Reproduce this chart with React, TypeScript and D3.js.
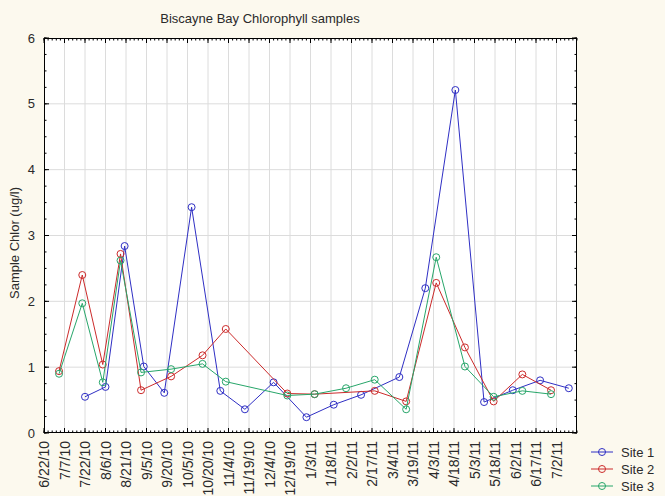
import React from "react";
import * as d3 from "d3";

const tickLabels = ["6/22/10","7/7/10","7/22/10","8/6/10","8/21/10","9/5/10","9/20/10","10/5/10","10/20/10","11/4/10","11/19/10","12/4/10","12/19/10","1/3/11","1/18/11","2/2/11","2/17/11","3/4/11","3/19/11","4/3/11","4/18/11","5/3/11","5/18/11","6/2/11","6/17/11","7/2/11"];
const domainDates = ["6/22/10", "7/17/11"];
const yTicks = [0, 1, 2, 3, 4, 5, 6];

const site1Dates = ["7/22/10","8/6/10","8/20/10","9/3/10","9/18/10","10/8/10","10/29/10","11/16/10","12/7/10","12/31/10","1/20/11","2/9/11","3/9/11","3/28/11","4/19/11","5/10/11","5/31/11","6/20/11","7/11/11"];
const site1Values = [0.55,0.70,2.84,1.01,0.61,3.43,0.64,0.36,0.77,0.24,0.43,0.58,0.85,2.20,5.21,0.47,0.65,0.80,0.68];

const site23Dates = ["7/3/10","7/20/10","8/4/10","8/17/10","9/1/10","9/23/10","10/16/10","11/2/10","12/17/10","1/6/11","1/29/11","2/19/11","3/14/11","4/5/11","4/26/11","5/17/11","6/7/11","6/28/11"];
const site2Values: (number | null)[] = [0.94,2.40,1.04,2.72,0.65,0.86,1.18,1.58,0.60,0.59,null,0.64,0.48,2.28,1.30,0.48,0.89,0.65];
const site3Values = [0.90,1.97,0.77,2.62,0.92,0.97,1.05,0.78,0.57,0.59,0.68,0.81,0.36,2.67,1.01,0.55,0.64,0.59];

const seriesNames = ["Site 1", "Site 2", "Site 3"];
const seriesColors = ["#2f2fc4", "#cc2b2b", "#27a66a"];

const parse = d3.utcParse("%m/%d/%y");

const W = 665, H = 496;
const L = 44, R = 577, T = 38, B = 433;
const FONT = "Arial, 'Liberation Sans', sans-serif";
const TXT = "#2a2a2a";

export default function App() {
  const x = d3.scaleUtc().domain(domainDates.map(s => parse(s) as Date)).range([L, R]);
  const y = d3.scaleLinear().domain([0, 6]).range([B, T]);

  const series = [
    site1Dates.map((d, i) => ({ d: parse(d) as Date, v: site1Values[i] })),
    site23Dates.map((d, i) => ({ d: parse(d) as Date, v: site2Values[i] })).filter(p => p.v !== null) as { d: Date; v: number }[],
    site23Dates.map((d, i) => ({ d: parse(d) as Date, v: site3Values[i] })),
  ];

  const line = d3.line<{ d: Date; v: number }>().x(p => x(p.d)).y(p => y(p.v));

  const start = parse(domainDates[0]) as Date;
  const end = parse(domainDates[1]) as Date;
  const totalDays = d3.utcDay.count(start, end);
  const minorX = d3.range(0, totalDays + 1, 3).map(k => x(d3.utcDay.offset(start, k)));
  const majorX = tickLabels.map(s => x(parse(s) as Date));
  const minorY = d3.range(0, 6.001, 0.25).map(v => y(v));

  return (
    <div style={{ position: "fixed", left: 0, top: 0 }}>
      <svg width={W} height={H} style={{ display: "block", fontFamily: FONT }}>
        <rect x={0} y={0} width={W} height={H} fill="#fcf9ee" />
        <rect x={L} y={T} width={R - L} height={B - T} fill="#ffffff" />
        {/* grid */}
        {majorX.filter(px => px > L + 1 && px < R - 1).map((px, i) => (
          <line key={"gx" + i} x1={px} x2={px} y1={T} y2={B} stroke="#dcdcdc" strokeWidth={1} />
        ))}
        {yTicks.filter(v => v > 0 && v < 6).map(v => (
          <line key={"gy" + v} x1={L} x2={R} y1={y(v)} y2={y(v)} stroke="#dcdcdc" strokeWidth={1} />
        ))}
        {/* minor ticks */}
        {minorX.map((px, i) => (
          <g key={"mx" + i}>
            <line x1={px} x2={px} y1={T} y2={T + 2.5} stroke="#000" strokeWidth={1} />
            <line x1={px} x2={px} y1={B} y2={B - 2.5} stroke="#000" strokeWidth={1} />
          </g>
        ))}
        {majorX.map((px, i) => (
          <g key={"Mx" + i}>
            <line x1={px} x2={px} y1={T} y2={T + 5} stroke="#000" strokeWidth={1} />
            <line x1={px} x2={px} y1={B} y2={B - 5} stroke="#000" strokeWidth={1} />
          </g>
        ))}
        {minorY.map((py, i) => (
          <g key={"my" + i}>
            <line x1={L} x2={L + 2.5} y1={py} y2={py} stroke="#000" strokeWidth={1} />
            <line x1={R} x2={R - 2.5} y1={py} y2={py} stroke="#000" strokeWidth={1} />
          </g>
        ))}
        {yTicks.map(v => (
          <g key={"My" + v}>
            <line x1={L} x2={L + 5} y1={y(v)} y2={y(v)} stroke="#000" strokeWidth={1} />
            <line x1={R} x2={R - 5} y1={y(v)} y2={y(v)} stroke="#000" strokeWidth={1} />
            <text x={35} y={y(v)} dy="0.35em" textAnchor="end" fontSize={13} fill={TXT}>{v}</text>
          </g>
        ))}
        <rect x={L + 0.5} y={T + 0.5} width={R - L - 1} height={B - T - 1} fill="none" stroke="#000" strokeWidth={1} />
        {/* x labels */}
        {tickLabels.map((s, i) => (
          <text key={"xl" + i} transform={`translate(${majorX[i] + 5},${B + 8}) rotate(-90)`} textAnchor="end" fontSize={14} fill={TXT}>{s}</text>
        ))}
        {/* titles */}
        <text x={260} y={23} textAnchor="middle" fontSize={13} fill={TXT}>Biscayne Bay Chlorophyll samples</text>
        <text transform={`translate(19,243) rotate(-90)`} textAnchor="middle" fontSize={13} fill={TXT}>Sample Chlor (ug/l)</text>
        {/* series */}
        {series.map((pts, si) => (
          <g key={"s" + si}>
            <path d={line(pts) || ""} fill="none" stroke={seriesColors[si]} strokeWidth={1} />
            {pts.map((p, j) => (
              <circle key={j} cx={x(p.d)} cy={y(p.v)} r={3.5} fill="none" stroke={seriesColors[si]} strokeWidth={1} />
            ))}
          </g>
        ))}
        {/* legend */}
        {seriesNames.map((n, i) => {
          const ly = 452 + i * 17;
          return (
            <g key={"lg" + i}>
              <line x1={591} x2={613} y1={ly} y2={ly} stroke={seriesColors[i]} strokeWidth={1} />
              <circle cx={602} cy={ly} r={3.5} fill="none" stroke={seriesColors[i]} strokeWidth={1} />
              <text x={621} y={ly} dy="0.35em" fontSize={13} fill={TXT}>{n}</text>
            </g>
          );
        })}
      </svg>
    </div>
  );
}
